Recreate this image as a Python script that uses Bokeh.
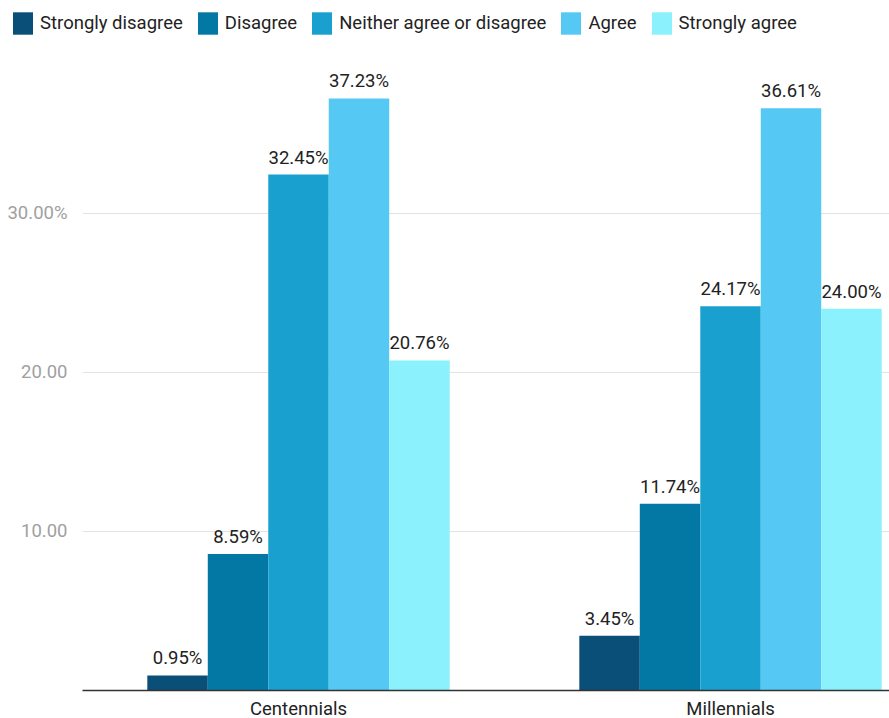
from bokeh.plotting import figure
from bokeh.layouts import column
from bokeh.models import ColumnDataSource, Range1d, FixedTicker, Legend, LegendItem
from bokeh.core.properties import value
from bokeh.embed import file_html
from bokeh.resources import INLINE

groups = ["Centennials", "Millennials"]
series = ["Strongly disagree", "Disagree", "Neither agree or disagree", "Agree", "Strongly agree"]
strongly_disagree = [0.95, 3.45]
disagree = [8.59, 11.74]
neither = [32.45, 24.17]
agree = [37.23, 36.61]
strongly_agree = [20.76, 24.00]
colors = ["#0a4f78", "#0478a5", "#1aa0cf", "#55c9f4", "#8bf1fc"]
y_ticks = [10, 20, 30]
y_tick_labels = {10: "10.00", 20: "20.00", 30: "30.00%"}

values = [strongly_disagree, disagree, neither, agree, strongly_agree]
group_pos = [i + 0.5 for i in range(len(groups))]
bar_w = 0.14
offsets = [(k - 2) * bar_w for k in range(len(series))]

FONT = "Roboto"
FS = "18.5px"

# legend strip
lg = figure(frame_width=889, frame_height=46, output_backend="svg", toolbar_location=None,
            x_axis_location=None, y_axis_location=None,
            x_range=Range1d(0, 1), y_range=Range1d(0, 1),
            min_border_left=0, min_border_right=0, min_border_top=0, min_border_bottom=0)
lg.outline_line_color = None
lg.xgrid.visible = False
lg.ygrid.visible = False

# main chart
p = figure(frame_width=807, frame_height=644, output_backend="svg", toolbar_location=None,
           x_range=Range1d(0, 1.868), y_range=Range1d(0, 40.5),
           min_border_left=82, min_border_right=0, min_border_bottom=0, min_border_top=0)
p.outline_line_color = None
p.background_fill_color = "white"
p.border_fill_color = "white"

items = []
for k, name in enumerate(series):
    src = ColumnDataSource(dict(
        x=[g + offsets[k] for g in group_pos],
        top=values[k],
        label=["%.2f%%" % v for v in values[k]],
    ))
    p.vbar(x="x", top="top", bottom=0, width=bar_w, source=src,
           fill_color=colors[k], line_color=None)
    p.text(x="x", y="top", text="label", source=src, text_align="center",
           text_baseline="bottom", y_offset=-6, text_font=value(FONT),
           text_font_size=FS, text_color="#222222")
    swatch = lg.vbar(x=[0], top=[0], bottom=[0], width=0.01, fill_color=colors[k], line_color=None)
    items.append(LegendItem(label=name, renderers=[swatch]))

legend = Legend(items=items, orientation="horizontal", location=(10, 9),
                label_text_font=FONT, label_text_font_size=FS, label_text_color="#222222",
                glyph_width=25, glyph_height=28, label_height=28, label_standoff=5, spacing=12,
                padding=0, margin=0, border_line_color=None, background_fill_alpha=0)
lg.add_layout(legend)

p.xaxis.ticker = FixedTicker(ticks=group_pos)
p.xaxis.major_label_overrides = {g: n for g, n in zip(group_pos, groups)}
p.xaxis.major_tick_line_color = None
p.xaxis.minor_tick_line_color = None
p.xaxis.axis_line_color = "#333333"
p.xaxis.axis_line_width = 1.5
p.xaxis.major_label_text_font = FONT
p.xaxis.major_label_text_font_size = FS
p.xaxis.major_label_text_color = "#222222"
p.xaxis.major_label_standoff = 1
p.xgrid.grid_line_color = None

p.yaxis.ticker = FixedTicker(ticks=y_ticks)
p.yaxis.major_label_overrides = y_tick_labels
p.yaxis.axis_line_color = None
p.yaxis.major_tick_line_color = None
p.yaxis.minor_tick_line_color = None
p.yaxis.major_label_text_font = FONT
p.yaxis.major_label_text_font_size = FS
p.yaxis.major_label_text_color = "#a0a0a0"
p.yaxis.major_label_standoff = 9
p.ygrid.grid_line_color = "#e3e3e3"
p.ygrid.ticker = FixedTicker(ticks=y_ticks)

layout = column(lg, p, spacing=0)
open("out.html", "w").write(file_html(layout, INLINE))
